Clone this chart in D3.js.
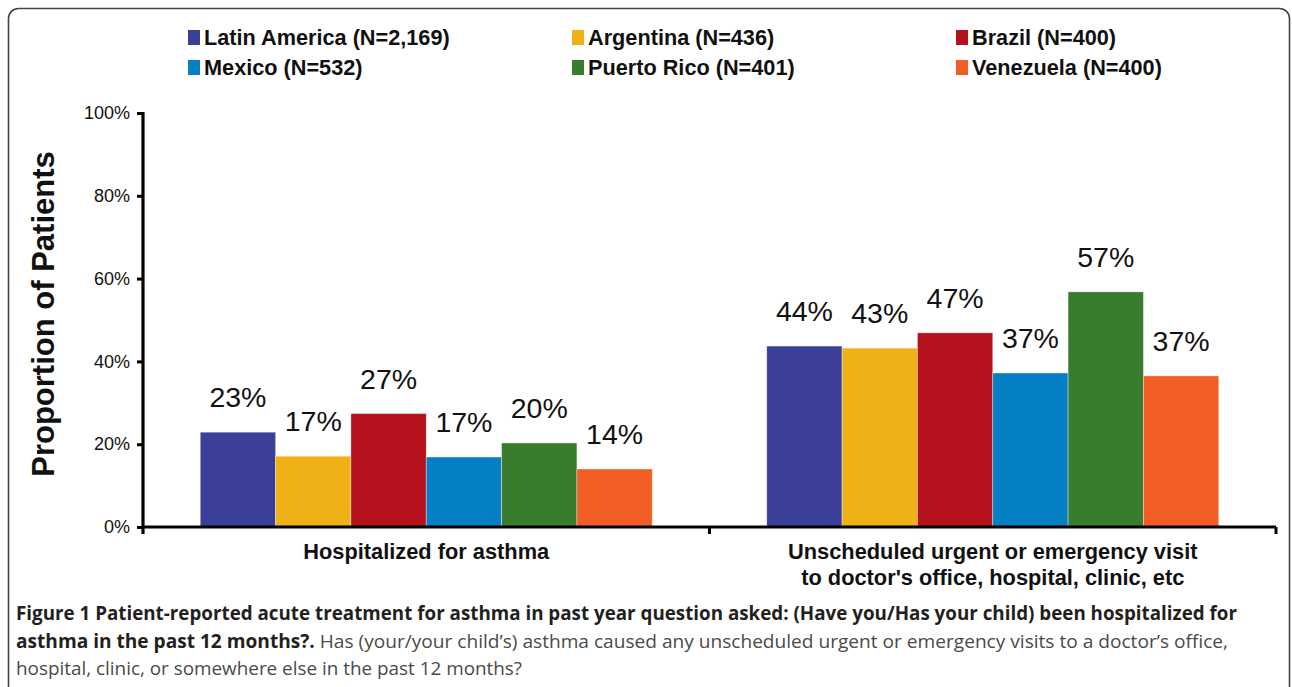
<!DOCTYPE html>
<html>
<head>
<meta charset="utf-8">
<script src="https://cdn.jsdelivr.net/npm/d3@7"></script>
<style>
	body { margin: 0; background: #fff; }
	svg { display: block; }
	.axis path, .axis line { stroke: #000; }
</style>
</head>
<body>
<svg id="chart" width="1292" height="687"></svg>
<script>

// categories along the x axis (each label may have 2 lines)
var categories = ["hosp", "visit"];
var categoryLines = [
	["Hospitalized for asthma"],
	["Unscheduled urgent or emergency visit", "to doctor's office, hospital, clinic, etc"]
];

// series (countries)
var series = [
	"Latin America (N=2,169)",
	"Argentina (N=436)",
	"Brazil (N=400)",
	"Mexico (N=532)",
	"Puerto Rico (N=401)",
	"Venezuela (N=400)"
];
var seriesColors = ["#3b3f97", "#eeb116", "#b5121e", "#0580c4", "#3a7c2e", "#f15e25"];

// values, % of patients
var hospValues = [22.9, 17.1, 27.4, 16.9, 20.3, 14.0];
var visitValues = [43.7, 43.2, 46.9, 37.2, 56.8, 36.5];

var yTicks = [0, 20, 40, 60, 80, 100];

var captionBold1 = "Figure 1 Patient-reported acute treatment for asthma in past year question asked: (Have you/Has your child) been hospitalized for";
var captionBold2 = "asthma in the past 12 months?.";
var captionNorm2 = " Has (your/your child\u2019s) asthma caused any unscheduled urgent or emergency visits to a doctor\u2019s office,";
var captionNorm3 = "hospital, clinic, or somewhere else in the past 12 months?";

var data = categories.map(function(c, i){
	var vals = i === 0 ? hospValues : visitValues;
	return { cat: c, values: series.map(function(s, j){ return { key: s, i: j, value: vals[j] }; }) };
});

var svg = d3.select("#chart");
var sans = "'Liberation Sans', Arial, sans-serif";

// outer frame
svg.append("rect")
	.attr("x", 8.5)
	.attr("y", 8.5)
	.attr("width", 1281)
	.attr("height", 720)
	.attr("rx", 10)
	.attr("fill", "none")
	.attr("stroke", "#444")
	.attr("stroke-width", 1.6);

// scales
var x0 = d3.scaleBand()
	.domain(categories)
	.range([143, 1276])
	.padding(0);

var x1 = d3.scaleBand()
	.domain(d3.range(series.length))
	.range([0, x0.bandwidth()])
	.paddingInner(0)
	.paddingOuter(0.76);

var yScale = d3.scaleLinear()
	.domain([0, 100])
	.range([527, 113]);

// bars
var groups = svg.append("g")
	.attr("class", "bars")
	.selectAll("g")
	.data(data)
	.join("g")
	.attr("transform", d => "translate(" + x0(d.cat) + ",0)");

groups.selectAll("rect")
	.data(d => d.values)
	.join("rect")
	.attr("x", d => x1(d.i))
	.attr("y", d => yScale(d.value))
	.attr("width", x1.bandwidth())
	.attr("height", d => yScale(0) - yScale(d.value))
	.attr("fill", d => seriesColors[d.i])
	.attr("stroke", "rgba(255,255,255,0.45)")
	.attr("stroke-width", 0.8);

// value labels above bars
groups.selectAll("text")
	.data(d => d.values)
	.join("text")
	.attr("x", d => x1(d.i) + x1.bandwidth() / 2)
	.attr("y", d => yScale(d.value) - 25)
	.attr("text-anchor", "middle")
	.style("font-family", sans)
	.style("font-size", "28.5px")
	.attr("fill", "#111")
	.text(d => Math.round(d.value) + "%");

// y axis
var yAxis = svg.append("g")
	.attr("class", "axis")
	.attr("transform", "translate(143,0)")
	.call(d3.axisLeft(yScale)
		.tickValues(yTicks)
		.tickSize(6)
		.tickSizeOuter(0)
		.tickPadding(7)
		.tickFormat(d => d + "%"));
yAxis.select(".domain")
	.attr("stroke-width", 3.2)
	.attr("d", "M0," + (yScale(100) - 1) + "V" + (yScale(0) + 7));
yAxis.selectAll(".tick line")
	.attr("stroke-width", 3);
yAxis.selectAll(".tick text")
	.style("font-family", sans)
	.style("font-size", "18px")
	.attr("fill", "#111");

// x axis: baseline plus ticks at category boundaries
var xEdges = categories.map(c => x0(c)).concat([x0.range()[1]]);
var xAxis = svg.append("g").attr("class", "axis");
xAxis.append("line")
	.attr("x1", x0.range()[0])
	.attr("x2", x0.range()[1])
	.attr("y1", yScale(0))
	.attr("y2", yScale(0))
	.attr("stroke-width", 3.2);
xAxis.selectAll(".xtick")
	.data(xEdges.slice(1))
	.join("line")
	.attr("class", "xtick")
	.attr("x1", d => d)
	.attr("x2", d => d)
	.attr("y1", yScale(0))
	.attr("y2", yScale(0) + 7)
	.attr("stroke-width", 3);

// category labels
svg.append("g")
	.selectAll("text")
	.data(categories)
	.join("text")
	.attr("x", c => x0(c) + x0.bandwidth() / 2)
	.attr("y", 559)
	.attr("text-anchor", "middle")
	.style("font-family", sans)
	.style("font-size", "21.8px")
	.style("font-weight", "bold")
	.attr("fill", "#111")
	.each(function(c, i){
		d3.select(this).selectAll("tspan")
			.data(categoryLines[i])
			.join("tspan")
			.attr("x", x0(c) + x0.bandwidth() / 2)
			.attr("dy", (d, k) => k === 0 ? 0 : 26)
			.text(d => d);
	});

// y axis title
svg.append("text")
	.attr("transform", "translate(54,314) rotate(-90)")
	.attr("text-anchor", "middle")
	.style("font-family", sans)
	.style("font-size", "31px")
	.style("font-weight", "bold")
	.attr("fill", "#111")
	.text("Proportion of Patients");

// legend, 3 columns x 2 rows
var legendCols = [188, 572, 956];
var legendRows = [45, 75];
var legend = svg.append("g")
	.attr("class", "legend")
	.selectAll("g")
	.data(series)
	.join("g")
	.attr("transform", (d, i) => "translate(" + legendCols[i % 3] + "," + legendRows[Math.floor(i / 3)] + ")");
legend.append("rect")
	.attr("x", 0)
	.attr("y", -15)
	.attr("width", 12)
	.attr("height", 15)
	.attr("fill", (d, i) => seriesColors[i]);
legend.append("text")
	.attr("x", 16)
	.attr("y", 0)
	.style("font-family", sans)
	.style("font-size", "21.7px")
	.style("font-weight", "bold")
	.attr("fill", "#111")
	.text(d => d);

// caption below the chart
var capFont = "'Open Sans', sans-serif";
var cap = svg.append("g").attr("class", "caption")
	.style("font-family", capFont)
	.style("font-size", "19px");

cap.append("text")
	.attr("x", 16)
	.attr("y", 620)
	.attr("textLength", 1221)
	.attr("lengthAdjust", "spacingAndGlyphs")
	.style("font-weight", "bold")
	.attr("fill", "#231f20")
	.text(captionBold1);

var line2 = cap.append("text")
	.attr("x", 16)
	.attr("y", 648)
	.attr("textLength", 1212)
	.attr("lengthAdjust", "spacingAndGlyphs");
line2.append("tspan")
	.style("font-weight", "bold")
	.attr("fill", "#231f20")
	.text(captionBold2);
line2.append("tspan")
	.attr("fill", "#4a4a4a")
	.text(captionNorm2);

cap.append("text")
	.attr("x", 16)
	.attr("y", 675)
	.attr("textLength", 506)
	.attr("lengthAdjust", "spacingAndGlyphs")
	.attr("fill", "#4a4a4a")
	.text(captionNorm3);

</script>
</body>
</html>
